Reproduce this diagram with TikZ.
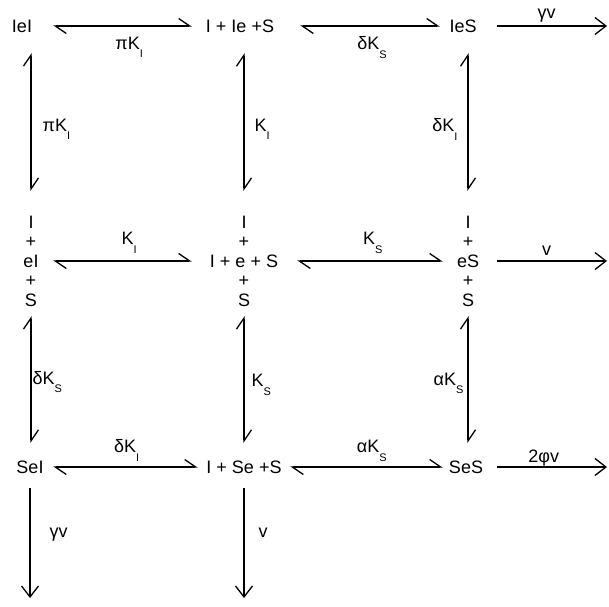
\documentclass[tikz,border=0pt]{standalone}
\usepackage{fontspec}
\setmainfont{Liberation Sans}
\usetikzlibrary{arrows.meta,positioning}
\newcommand{\Krate}[1]{K\raisebox{-8.5pt}{\fontsize{11}{11}\selectfont #1}}

\begin{document}
\begin{tikzpicture}[x=1pt, y=-1pt,
    species/.style={inner sep=2pt, font=\fontsize{18}{19.5}\selectfont, align=center},
    rate/.style={inner sep=1pt, font=\fontsize{18}{20}\selectfont},
    eq/.style={line width=1.3pt,
               {Straight Barb[left,length=11pt,width=15pt]}-{Straight Barb[left,length=11pt,width=15pt]}},
    irr/.style={line width=1.3pt, -{Straight Barb[length=11pt,width=17pt]}},
]
\useasboundingbox (0,0) rectangle (609,606);

% Top row
\node[species] (ieI) at (22,26) {IeI};
\node[species] (iPlusIe) at (240,26) {I + Ie +S};
\node[species] (ieS) at (463,26) {IeS};

% Middle row
\node[species] (eI) at (31,261) {I\\+\\eI\\+\\S};
\node[species] (iPlusE) at (244,261) {I\\+\\I + e + S\\+\\S};
\node[species] (eS) at (468,261) {I\\+\\eS\\+\\S};

% Bottom row
\node[species] (seI) at (30,467) {SeI};
\node[species] (iPlusSe) at (244,467) {I + Se +S};
\node[species] (seS) at (466,467) {SeS};

% Product ends
\coordinate (outIeS) at (607,26);
\coordinate (outES) at (607,261);
\coordinate (outSeS) at (607,467);
\coordinate (outSeI) at (30,598);
\coordinate (outSe) at (244,598);

% Horizontal equilibria
\draw[eq, shorten <=19pt, shorten >=12pt] (ieI) -- node[rate, below=9pt, pos=0.56] {π\Krate{I}} (iPlusIe);
\draw[eq, shorten <=24pt, shorten >=7.5pt] (iPlusIe) -- node[rate, below=9pt, pos=0.56] {δ\Krate{S}} (ieS);
\draw[eq, shorten <=12.5pt, shorten >=16pt] (eI) -- node[rate, above=6pt, pos=0.53] {\Krate{I}} (iPlusE);
\draw[eq, shorten <=17pt, shorten >=12pt] (iPlusE) -- node[rate, above=6pt, pos=0.53] {\Krate{S}} (eS);
\draw[eq, shorten <=7.5pt, shorten >=6.5pt] (seI) -- node[rate, above=4pt, pos=0.51] {δ\Krate{I}} (iPlusSe);
\draw[eq, shorten <=6.5pt, shorten >=4pt] (iPlusSe) -- node[rate, above=4pt, pos=0.54] {α\Krate{S}} (seS);

% Vertical equilibria
\draw[eq, shorten <=18.5pt, shorten >=22.5pt] (eI |- ieI.south) -- node[rate, right=10pt, pos=0.53] {π\Krate{I}} (eI.north);
\draw[eq, shorten <=18.5pt, shorten >=22.5pt] (iPlusE |- iPlusIe.south) -- node[rate, right=9pt, pos=0.53] {\Krate{I}} (iPlusE.north);
\draw[eq, shorten <=18.5pt, shorten >=22.5pt] (eS |- ieS.south) -- node[rate, left=9pt, pos=0.53] {δ\Krate{I}} (eS.north);
\draw[eq, shorten <=7.5pt, shorten >=15.5pt] (eI.south) -- node[rate, right=0pt, pos=0.49] {δ\Krate{S}} (eI |- seI.north);
\draw[eq, shorten <=7.5pt, shorten >=15.5pt] (iPlusE.south) -- node[rate, right=6pt, pos=0.51] {\Krate{S}} (iPlusE |- iPlusSe.north);
\draw[eq, shorten <=7.5pt, shorten >=15.5pt] (eS.south) -- node[rate, left=3pt, pos=0.5] {α\Krate{S}} (eS |- seS.north);

% Product formation
\draw[irr, shorten <=18.5pt] (ieS) -- node[rate, above=2pt, pos=0.53] {γv} (outIeS);
\draw[irr, shorten <=16pt] (eS) -- node[rate, above=4pt, pos=0.52] {v} (outES);
\draw[irr, shorten <=12pt] (seS) -- node[rate, above=-1pt, pos=0.48] {2φv} (outSeS);
\draw[irr, shorten <=12.5pt] (seI) -- node[rate, right=18pt, pos=0.48] {γv} (outSeI);
\draw[irr, shorten <=12.5pt] (iPlusSe) -- node[rate, right=13pt, pos=0.47] {v} (outSe);
\end{tikzpicture}
\end{document}
